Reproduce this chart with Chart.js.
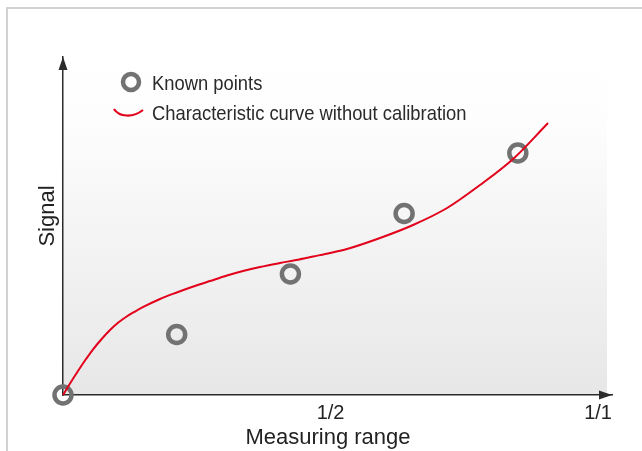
<!DOCTYPE html>
<html>
<head>
<meta charset="utf-8">
<script src="https://cdn.jsdelivr.net/npm/chart.js@4"></script>
<style>
  html, body { margin: 0; padding: 0; background: #fff; }
  #wrap { position: relative; width: 642px; height: 451px; }
</style>
</head>
<body>
<div id="wrap"><canvas id="chart" width="642" height="451"></canvas></div>
<script>
const FONT = "'Liberation Sans', Arial, sans-serif";

// known calibration points
const pointX = [0, 0.2125, 0.425, 0.6375, 0.85];
const pointY = [0, 1, 2, 3, 4];

// characteristic curve without calibration
const curveX = [0, 0.0131, 0.0256, 0.0411, 0.0566, 0.0723, 0.0879, 0.1034, 0.1191, 0.1346, 0.1501, 0.1813, 0.2125, 0.2436, 0.2748, 0.3065, 0.3364, 0.3682, 0.4056, 0.4355, 0.4673, 0.4991, 0.5308, 0.5925, 0.6542, 0.7178, 0.7794, 0.8411, 0.9065];
const curveY = [0, 0.19, 0.364, 0.57, 0.76, 0.926, 1.074, 1.198, 1.298, 1.38, 1.455, 1.587, 1.694, 1.793, 1.884, 1.975, 2.05, 2.116, 2.182, 2.231, 2.289, 2.347, 2.413, 2.595, 2.81, 3.091, 3.471, 3.901, 4.496];

const xTickValues = [0.5, 1];
const xTickLabels = ["1/2", "1/1"];
const legendLabels = ["Known points", "Characteristic curve without calibration"];
const xTitle = "Measuring range";
const yTitle = "Signal";

const GREY = "#727272";
const RED = "#e2001a";
const AXIS = "#2b2b2b";

const decor = {
  id: "decor",
  beforeDraw(chart) {
    const { ctx, chartArea: a } = chart;
    ctx.save();
    // outer frame
    ctx.strokeStyle = "#d2d2d2";
    ctx.lineWidth = 2;
    ctx.beginPath();
    ctx.moveTo(7, 460);
    ctx.lineTo(7, 8);
    ctx.lineTo(660, 8);
    ctx.stroke();
    // gradient plot background
    const g = ctx.createLinearGradient(0, a.top, 0, a.bottom);
    g.addColorStop(0, "#ffffff");
    g.addColorStop(0.2, "#fdfdfd");
    g.addColorStop(1, "#e7e7e7");
    ctx.fillStyle = g;
    ctx.fillRect(a.left, a.top, a.right - a.left - 5, a.bottom - a.top);
    ctx.restore();
  },
  afterDraw(chart) {
    const { ctx, chartArea: a } = chart;
    ctx.save();
    // arrowheads
    ctx.fillStyle = AXIS;
    ctx.beginPath();
    ctx.moveTo(a.left, a.top);
    ctx.lineTo(a.left - 4.5, a.top + 13);
    ctx.lineTo(a.left + 4.5, a.top + 13);
    ctx.closePath();
    ctx.fill();
    ctx.beginPath();
    ctx.moveTo(a.right, a.bottom);
    ctx.lineTo(a.right - 13, a.bottom - 4.5);
    ctx.lineTo(a.right - 13, a.bottom + 4.5);
    ctx.closePath();
    ctx.fill();

    // axis titles
    ctx.fillStyle = "#222";
    ctx.font = "22px " + FONT;
    ctx.textAlign = "center";
    ctx.textBaseline = "alphabetic";
    ctx.fillText(xTitle, 328, 444);
    ctx.save();
    ctx.translate(54, 216);
    ctx.rotate(-Math.PI / 2);
    ctx.fillText(yTitle, 0, 0);
    ctx.restore();

    // legend
    ctx.strokeStyle = GREY;
    ctx.lineWidth = 4.5;
    ctx.beginPath();
    ctx.arc(131, 82, 8, 0, Math.PI * 2);
    ctx.stroke();
    ctx.strokeStyle = RED;
    ctx.lineWidth = 2.2;
    ctx.beginPath();
    ctx.moveTo(114, 109);
    ctx.bezierCurveTo(119, 117, 133, 118, 143, 110);
    ctx.stroke();
    ctx.fillStyle = "#2a2a2a";
    ctx.font = "21px " + FONT;
    ctx.textAlign = "left";
    ctx.save();
    ctx.translate(152, 0);
    ctx.scale(0.875, 1);
    ctx.fillText(legendLabels[0], 0, 90);
    ctx.fillText(legendLabels[1], 0, 120);
    ctx.restore();
    ctx.restore();
  },
};

new Chart(document.getElementById("chart"), {
  type: "line",
  data: {
    datasets: [
      {
        label: legendLabels[1],
        data: curveX.map((x, i) => ({ x, y: curveY[i] })),
        borderColor: RED,
        borderWidth: 2,
        pointRadius: 0,
        fill: false,
        cubicInterpolationMode: "monotone",
        order: 1,
      },
      {
        label: legendLabels[0],
        data: pointX.map((x, i) => ({ x, y: pointY[i] })),
        showLine: false,
        pointRadius: 8.5,
        pointBorderWidth: 4.5,
        pointBorderColor: GREY,
        pointBackgroundColor: "rgba(0,0,0,0)",
        order: 2,
      },
    ],
  },
  options: {
    responsive: false,
    animation: false,
    events: [],
    clip: false,
    layout: { padding: { top: 57, right: 30, left: 0, bottom: 0 } },
    plugins: { legend: { display: false }, tooltip: { enabled: false } },
    scales: {
      x: {
        type: "linear",
        min: 0,
        max: 1.026,
        grid: { display: false, drawTicks: false },
        border: { display: true, color: AXIS, width: 1.5 },
        afterBuildTicks: (s) => { s.ticks = xTickValues.map((v) => ({ value: v })); },
        ticks: {
          autoSkip: false,
          padding: 6,
          color: "#222",
          font: { family: FONT, size: 20 },
          maxRotation: 0,
          callback: (v) => xTickLabels[xTickValues.indexOf(v)] ?? "",
        },
        afterFit: (s) => { s.height = 56; },
      },
      y: {
        type: "linear",
        min: 0,
        max: 5.587,
        grid: { display: false, drawTicks: false },
        border: { display: true, color: AXIS, width: 1.5 },
        ticks: { display: false },
        afterFit: (s) => { s.width = 63; },
      },
    },
  },
  plugins: [decor],
});
</script>
</body>
</html>
